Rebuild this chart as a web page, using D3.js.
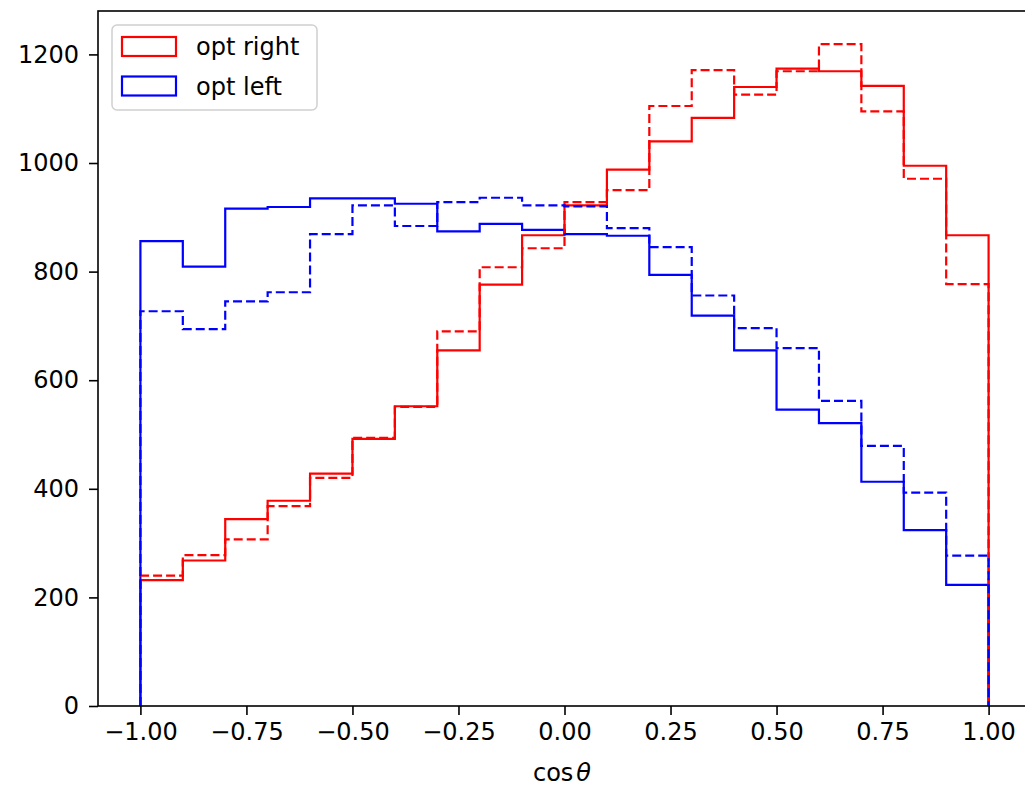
<!DOCTYPE html>
<meta charset="utf-8">
<style>
body { margin: 0; background: #fff; }
text { font-family: "DejaVu Sans", sans-serif; fill: #000; }
</style>
<body>
<svg id="hist" width="1025" height="787"></svg>
<script src="https://cdn.jsdelivr.net/npm/d3@7"></script>
<script>

// bin edges of the cos(theta) histograms
var binEdges = [-1.0, -0.9, -0.8, -0.7, -0.6, -0.5, -0.4, -0.3, -0.2, -0.1, 0.0,
                0.1, 0.2, 0.3, 0.4, 0.5, 0.6, 0.7, 0.8, 0.9, 1.0];

// counts per bin
var rightSolid  = [232, 268, 344, 378, 428, 492, 552, 655, 776, 867, 922, 988, 1040, 1083, 1140, 1174, 1169, 1142, 995, 867];
var rightDashed = [240, 278, 307, 368, 420, 494, 551, 690, 808, 843, 928, 950, 1105, 1171, 1126, 1169, 1219, 1095, 971, 777];
var leftSolid   = [856, 809, 916, 919, 935, 935, 925, 874, 888, 877, 869, 866, 794, 719, 655, 546, 521, 413, 324, 223];
var leftDashed  = [727, 694, 745, 762, 869, 922, 884, 928, 936, 922, 920, 880, 845, 756, 696, 659, 562, 479, 393, 277];

var xTicks = [-1.0, -0.75, -0.5, -0.25, 0.0, 0.25, 0.5, 0.75, 1.0];
var yTicks = [0, 200, 400, 600, 800, 1000, 1200];
var legendLabels = ["opt right", "opt left"];

var svg = d3.select("#hist"),
    margin = {top: 11, left: 98},
    width = 933,
    height = 695,
    g = svg.append("g").attr("transform", "translate(" + margin.left + "," + margin.top + ")");

var allVals = rightSolid.concat(rightDashed, leftSolid, leftDashed);

var x = d3.scaleLinear().domain([-1.1, 1.1]).range([0, width]);
var y = d3.scaleLinear().domain([0, d3.max(allVals) * 1.05]).range([height, 0]);

// step path like matplotlib histtype='step'
function stepPath(counts) {
  var pts = [[binEdges[0], 0]];
  counts.forEach(function(c, i) {
    pts.push([binEdges[i], c]);
    pts.push([binEdges[i + 1], c]);
  });
  pts.push([binEdges[binEdges.length - 1], 0]);
  return d3.line().x(function(d) { return x(d[0]); }).y(function(d) { return y(d[1]); })(pts);
}

var series = [
  {vals: rightSolid, color: "#ff0000", dash: null},
  {vals: leftSolid, color: "#0000ff", dash: null},
  {vals: rightDashed, color: "#ff0000", dash: "9,4"},
  {vals: leftDashed, color: "#0000ff", dash: "9,4"}
];

g.selectAll(".step")
  .data(series)
  .enter().append("path")
    .attr("class", "step")
    .attr("d", function(d) { return stepPath(d.vals); })
    .attr("fill", "none")
    .attr("stroke", function(d) { return d.color; })
    .attr("stroke-width", 2.2)
    .attr("stroke-dasharray", function(d) { return d.dash; });

// axes
var fmt = function(v) { return d3.format(".2f")(v).replace("-", "\u2212"); };

var xAxis = g.append("g")
    .attr("transform", "translate(0," + height + ")")
    .call(d3.axisBottom(x).tickValues(xTicks).tickFormat(fmt).tickSize(9).tickPadding(8));

var yAxis = g.append("g")
    .call(d3.axisLeft(y).tickValues(yTicks).tickFormat(d3.format("d")).tickSize(9).tickPadding(10));

[xAxis, yAxis].forEach(function(a) {
  a.select(".domain").remove();
  a.selectAll("line").attr("stroke", "#000").attr("stroke-width", 1.6);
  a.selectAll("text").style("font-size", "24px").attr("fill", "#000");
});
xAxis.selectAll("text").attr("dy", "0.72em");

// spines
g.append("rect")
  .attr("width", width)
  .attr("height", height)
  .attr("fill", "none")
  .attr("stroke", "#000")
  .attr("stroke-width", 1.6);

// x label
svg.append("text")
  .attr("x", 562)
  .attr("y", 781)
  .attr("text-anchor", "middle")
  .style("font-size", "24px")
  .html('cos<tspan dx="3" font-style="italic">\u03b8</tspan>');

// legend
var leg = svg.append("g").attr("transform", "translate(112,25)");
leg.append("rect")
  .attr("width", 205)
  .attr("height", 85)
  .attr("rx", 5)
  .attr("fill", "#fff")
  .attr("fill-opacity", 0.8)
  .attr("stroke", "#d0d0d0")
  .attr("stroke-width", 1.5);

var item = leg.selectAll(".item")
  .data(legendLabels)
  .enter().append("g")
    .attr("class", "item")
    .attr("transform", function(d, i) { return "translate(0," + i * 39.5 + ")"; });

item.append("rect")
  .attr("x", 10)
  .attr("y", 12)
  .attr("width", 54)
  .attr("height", 19)
  .attr("fill", "none")
  .attr("stroke", function(d, i) { return i === 0 ? "#ff0000" : "#0000ff"; })
  .attr("stroke-width", 2.2);

item.append("text")
  .attr("x", 84)
  .attr("y", 30)
  .style("font-size", "24px")
  .text(function(d) { return d; });

</script>
</body>
